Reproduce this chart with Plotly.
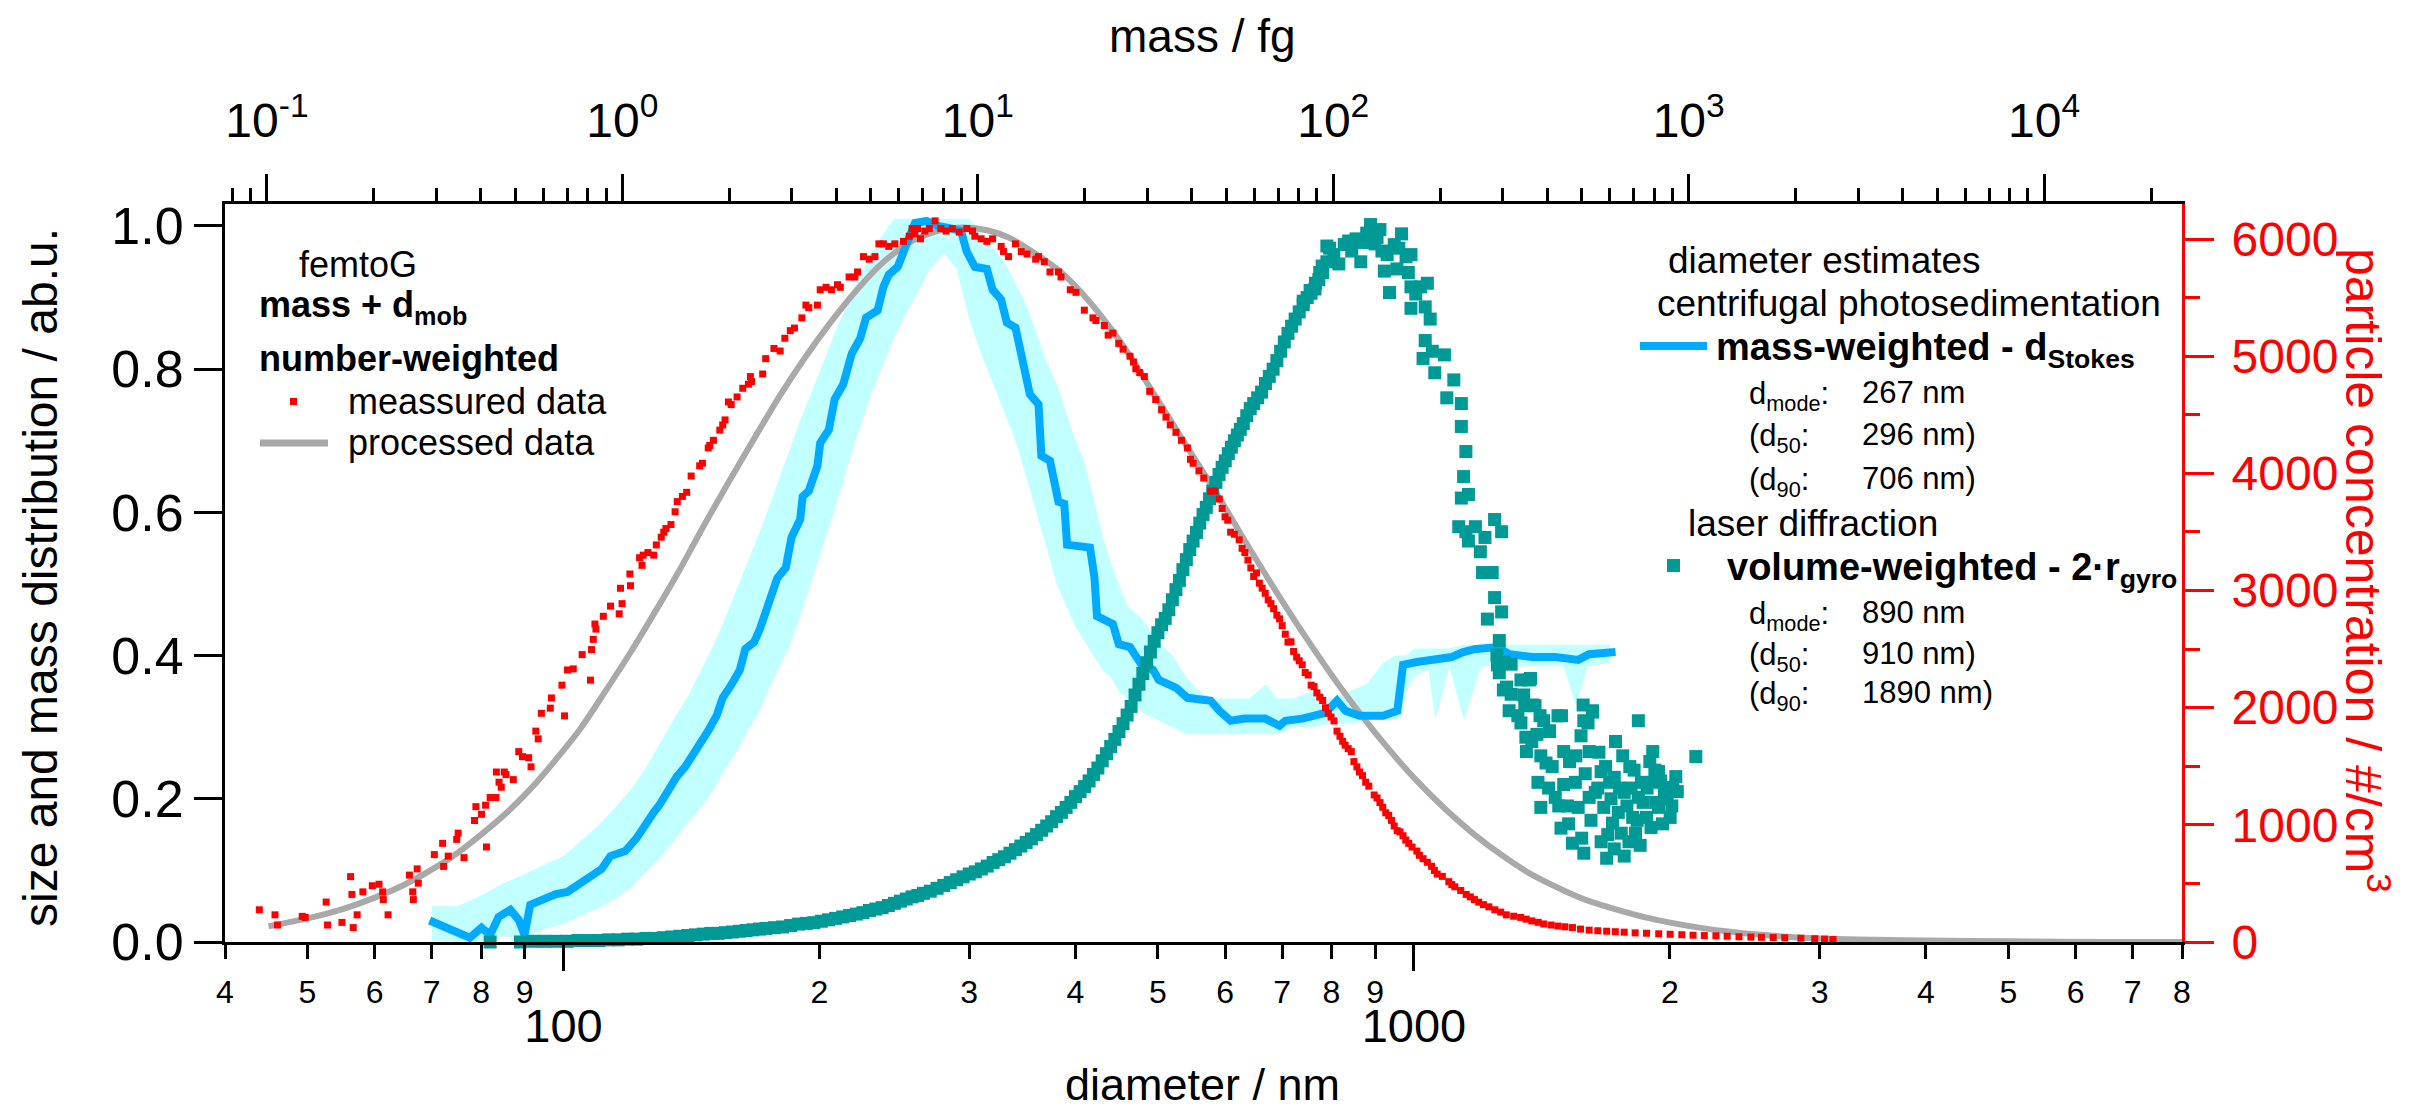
import math
import plotly.graph_objects as go

# ---------------------------------------------------------------------------
# femtoG (mass + mobility diameter), number-weighted: measured concentration
red_d = [
    43.9, 45.8, 46.1, 49.3, 49.7, 52.6, 52.8, 54.9, 56.2, 56.4,
    56.6, 57.2, 58.1, 59.6, 60.7, 61.3, 61.4, 62.2, 65.9, 66.5,
    66.6, 67.3, 67.5, 70.5, 72.1, 72.3, 73.2, 74.9, 75.2, 76.4,
    78.6, 78.9, 80.1, 81.0, 81.2, 82.0, 83.3, 83.4, 84.0, 84.5,
    85.2, 85.6, 87.3, 88.6, 89.5, 91.0, 91.6, 92.8, 93.4, 94.2,
    96.5, 96.8, 99.6, 100.3, 101.1, 102.7, 105.2, 107.6, 107.9, 108.4,
    108.9, 109.2, 111.4, 113.6, 116.3, 116.7, 117.2, 119.7, 119.9, 122.9,
    123.7, 124.1, 125.7, 127.7, 128.6, 130.3, 131.2, 132.0, 133.8, 135.3,
    136.1, 138.0, 139.6, 141.3, 144.6, 145.7, 148.0, 148.6, 150.1, 152.7,
    153.9, 154.9, 156.3, 157.5, 160.0, 162.5, 165.0, 165.9, 166.4, 171.5,
    172.9, 176.8, 179.8, 182.1, 184.8, 186.9, 190.7, 192.8, 194.3, 198.9,
    200.4, 203.6, 206.6, 210.0, 211.6, 216.7, 220.1, 221.7, 225.3, 228.8,
    232.4, 234.9, 237.8, 241.3, 245.3, 251.1, 255.0, 257.0, 259.0, 260.8,
    262.9, 266.0, 269.3, 273.5, 277.8, 281.8, 286.6, 292.0, 298.0, 302.7,
    304.6, 309.8, 314.7, 319.6, 327.1, 329.2, 333.7, 340.0, 345.4, 350.8,
    359.1, 361.9, 367.6, 373.3, 382.0, 384.6, 394.4, 400.5, 409.7, 419.4,
    422.8, 432.5, 437.0, 442.7, 449.7, 455.0, 463.6, 468.0, 471.0, 476.0,
    482.0, 489.0, 497.0, 505.0, 511.0, 517.0, 525.0, 533.0, 541.6, 546.0,
    550.0, 558.7, 566.0, 576.7, 583.0, 590.4, 595.0, 599.6, 604.0, 608.8,
    615.0, 623.0, 628.0, 632.7, 638.0, 643.0, 648.0, 652.9, 658.0, 663.0,
    668.6, 674.0, 679.0, 684.0, 690.0, 695.0, 700.0, 705.9, 711.0, 716.9,
    722.0, 728.0, 733.0, 739.0, 745.0, 751.0, 757.0, 763.0, 769.0, 775.0,
    781.0, 787.0, 793.0, 799.0, 805.5, 812.0, 818.5, 824.5, 830.0, 837.0,
    844.0, 850.0, 857.0, 863.0, 870.0, 877.5, 885.0, 898.0, 905.0, 912.0,
    919.0, 926.5, 934.0, 941.0, 948.0, 955.7, 963.0, 970.9, 978.0, 986.0,
    995.0, 1008, 1015, 1025, 1037, 1049, 1057, 1065, 1080, 1099,
    1108, 1117, 1135, 1152, 1165, 1178, 1192, 1207, 1225, 1245,
    1265, 1284, 1310, 1335, 1355, 1376, 1400, 1421, 1450, 1477,
    1505, 1536, 1570, 1607, 1645, 1685, 1725, 1767, 1820, 1877,
    1940, 2001, 2065, 2129, 2195, 2265, 2335, 2411, 2490, 2562,
    2645, 2729, 2851, 2960, 3040, 3110,
]
red_n = [
    275, 232, 145, 219, 210, 341, 145, 167, 558, 406,
    123, 232, 428, 480, 493, 428, 362, 232, 571, 428,
    362, 624, 502, 746, 842, 645, 733, 876, 929, 720,
    1037, 1155, 1090, 1168, 811, 1233, 1233, 1451, 1364, 1321,
    1451, 1429, 1386, 1625, 1582, 1573, 1495, 1800, 1734, 1952,
    1996, 2083, 2192, 1930, 2322, 2331, 2453, 2235, 2496, 2583,
    2714, 2671, 2780, 2867, 2801, 3019, 2888, 3141, 3041, 3280,
    3215, 3302, 3324, 3302, 3389, 3455, 3498, 3529, 3563, 3672,
    3759, 3803, 3838, 3977, 4064, 4086, 4217, 4238, 4282, 4369,
    4413, 4456, 4609, 4587, 4652, 4726, 4761, 4826, 4783, 4848,
    4979, 5066, 5044, 5153, 5218, 5240, 5327, 5436, 5414, 5436,
    5567, 5588, 5567, 5610, 5588, 5676, 5676, 5719, 5850, 5828,
    5850, 5959, 5959, 5937, 5959, 5980, 6024, 6089, 6046, 6089,
    6002, 6068, 6089, 6155, 6089, 6068, 6089, 6059, 6089, 6068,
    6024, 6002, 5980, 6002, 5937, 5893, 5850, 5959, 5893, 5872,
    5828, 5850, 5806, 5719, 5719, 5676, 5567, 5545, 5393, 5327,
    5305, 5262, 5180, 5197, 5109, 5060, 5000, 4950, 4892, 4860,
    4826, 4700, 4630, 4543, 4480, 4413, 4350, 4282, 4217, 4120,
    4086, 4021, 3960, 3847, 3850, 3781, 3700, 3629, 3600, 3498,
    3480, 3433, 3360, 3324, 3260, 3193, 3120, 3150, 3063, 3020,
    2976, 2920, 2888, 2845, 2790, 2758, 2700, 2627, 2560, 2562,
    2480, 2431, 2400, 2366, 2300, 2279, 2192, 2180, 2126, 2090,
    2061, 2000, 1952, 1920, 1887, 1800, 1756, 1713, 1680, 1650,
    1625, 1540, 1495, 1451, 1420, 1364, 1330, 1255, 1230, 1190,
    1150, 1103, 1080, 1038, 990, 950, 940, 907, 870, 842,
    810, 776, 740, 711, 680, 646, 610, 580, 560, 515,
    490, 471, 440, 406, 385, 362, 340, 319, 300, 275,
    255, 232, 220, 210, 195, 180, 168, 154, 145, 136,
    130, 123, 110, 101, 96, 92, 88, 84, 78, 75,
    70, 66, 62, 58, 55, 53, 49, 45, 42, 40,
    38, 36, 32, 28, 25, 22,
]

# femtoG processed (normalised) number distribution
grey_d = [
    45, 50, 55, 60, 65, 70, 75, 80, 86, 92,
    98, 105, 112, 120, 128, 137, 146, 156, 167, 179,
    192, 206, 221, 238, 256, 275, 295, 315, 335, 355,
    385, 415, 440, 464, 501, 542, 585, 633, 684, 739,
    799, 863, 933, 1008, 1090, 1178, 1273, 1376, 1500, 1607,
    1877, 2193, 2562, 3000, 4000, 5000, 6500, 8000,
]
grey_v = [
    0.022, 0.033, 0.046, 0.062, 0.080, 0.101, 0.124, 0.150, 0.182, 0.217,
    0.255, 0.300, 0.350, 0.405, 0.460, 0.520, 0.580, 0.640, 0.700, 0.760,
    0.815, 0.865, 0.910, 0.950, 0.978, 0.993, 0.998, 0.994, 0.983, 0.965,
    0.935, 0.895, 0.857, 0.818, 0.755, 0.690, 0.628, 0.560, 0.495, 0.433,
    0.374, 0.320, 0.270, 0.225, 0.185, 0.150, 0.120, 0.094, 0.072, 0.057,
    0.034, 0.019, 0.010, 0.005, 0.002, 0.001, 0.000, 0.000,
]

# centrifugal photosedimentation, mass-weighted (d_Stokes)
blue_d = [
    69.6, 74.1, 77.6, 80.1, 82.0, 83.9, 86.6, 88.6, 90.0, 91.4,
    95.0, 98.0, 101.1, 104.3, 107.6, 110.9, 113.6, 118.2, 121.9, 124.8,
    127.7, 129.6, 132.7, 135.9, 139.1, 142.4, 145.7, 148.0, 151.4, 153.9,
    157.5, 161.2, 163.6, 167.6, 170.2, 172.9, 175.6, 178.4, 182.6, 185.4,
    189.8, 191.1, 194.3, 198.9, 200.4, 205.1, 208.4, 213.3, 218.3, 223.3,
    226.9, 234.1, 237.8, 241.3, 247.2, 251.1, 255.0, 259.0, 267.2, 275.7,
    284.4, 293.4, 298.0, 304.6, 314.7, 319.6, 327.1, 332.2, 340.0, 345.4,
    353.5, 361.9, 364.7, 373.3, 382.0, 388.0, 391.0, 416.0, 421.0, 424.0,
    429.3, 442.7, 449.7, 463.6, 478.4, 493.5, 501.2, 525.4, 541.6, 576.7,
    590.4, 608.8, 632.7, 668.6, 695.0, 705.9, 739.0, 787.0, 812.0, 831.0,
    863.0, 920.0, 956.0, 971.0, 1008, 1057, 1108, 1143, 1178, 1254,
    1294, 1376, 1466, 1560, 1607, 1726,
]
blue_v = [
    0.030, 0.017, 0.006, 0.020, 0.010, 0.035, 0.045, 0.031, 0.010, 0.052,
    0.060, 0.067, 0.070, 0.081, 0.092, 0.102, 0.120, 0.127, 0.145, 0.166,
    0.181, 0.191, 0.213, 0.231, 0.245, 0.263, 0.280, 0.295, 0.316, 0.341,
    0.359, 0.380, 0.409, 0.419, 0.437, 0.462, 0.484, 0.508, 0.523, 0.565,
    0.590, 0.622, 0.630, 0.665, 0.697, 0.715, 0.758, 0.779, 0.822, 0.843,
    0.872, 0.882, 0.915, 0.932, 0.943, 0.964, 0.986, 1.004, 1.007, 1.000,
    0.997, 0.993, 0.964, 0.943, 0.940, 0.911, 0.897, 0.865, 0.858, 0.822,
    0.765, 0.751, 0.679, 0.672, 0.615, 0.612, 0.555, 0.551, 0.510, 0.455,
    0.451, 0.444, 0.416, 0.412, 0.387, 0.380, 0.366, 0.355, 0.341, 0.337,
    0.323, 0.309, 0.312, 0.312, 0.302, 0.309, 0.312, 0.320, 0.337, 0.323,
    0.316, 0.316, 0.323, 0.387, 0.391, 0.394, 0.398, 0.405, 0.409, 0.412,
    0.402, 0.398, 0.398, 0.394, 0.402, 0.405,
]

# uncertainty envelope of the mass-weighted distribution
band_d = [
    70, 75, 80, 85, 90, 95, 100, 105, 110, 115,
    120, 125, 130, 135, 140, 145, 150, 155, 160, 165,
    170, 175, 180, 185, 190, 195, 200, 205, 210, 215,
    220, 225, 230, 235, 240, 245, 250, 260, 270, 280,
    290, 300, 310, 320, 330, 340, 350, 360, 370, 380,
    390, 400, 410, 420, 430, 440, 450, 460, 480, 500,
    520, 540, 560, 580, 600, 640, 670, 690, 720, 760,
    800, 840, 880, 920, 950, 965, 980, 1000, 1040, 1060,
    1100, 1145, 1200, 1300, 1400, 1500, 1550, 1600, 1700,
]
band_lo = [
    0.002, 0.000, 0.002, 0.008, 0.005, 0.018, 0.025, 0.037, 0.047, 0.060,
    0.075, 0.098, 0.118, 0.142, 0.167, 0.187, 0.212, 0.242, 0.267, 0.297,
    0.322, 0.357, 0.387, 0.417, 0.457, 0.497, 0.537, 0.577, 0.617, 0.657,
    0.697, 0.730, 0.765, 0.792, 0.818, 0.845, 0.867, 0.905, 0.940, 0.962,
    0.940, 0.870, 0.820, 0.780, 0.740, 0.700, 0.650, 0.600, 0.550, 0.500,
    0.470, 0.440, 0.420, 0.400, 0.380, 0.370, 0.350, 0.340, 0.320, 0.310,
    0.300, 0.290, 0.290, 0.290, 0.290, 0.290, 0.290, 0.290, 0.300, 0.300,
    0.305, 0.305, 0.310, 0.310, 0.310, 0.315, 0.350, 0.370, 0.380, 0.310,
    0.385, 0.310, 0.385, 0.385, 0.385, 0.385, 0.330, 0.385, 0.390,
]
band_hi = [
    0.050, 0.050, 0.065, 0.082, 0.095, 0.108, 0.120, 0.142, 0.163, 0.188,
    0.213, 0.243, 0.278, 0.313, 0.343, 0.378, 0.413, 0.453, 0.493, 0.533,
    0.572, 0.612, 0.652, 0.690, 0.730, 0.763, 0.797, 0.830, 0.860, 0.888,
    0.915, 0.940, 0.962, 0.980, 0.997, 1.010, 1.010, 1.010, 1.010, 1.010,
    1.010, 1.010, 0.990, 0.970, 0.950, 0.920, 0.890, 0.850, 0.810, 0.780,
    0.740, 0.700, 0.670, 0.620, 0.570, 0.530, 0.500, 0.470, 0.450, 0.420,
    0.400, 0.370, 0.350, 0.340, 0.340, 0.340, 0.360, 0.340, 0.340, 0.350,
    0.340, 0.350, 0.360, 0.390, 0.400, 0.400, 0.400, 0.410, 0.410, 0.410,
    0.410, 0.415, 0.415, 0.415, 0.415, 0.415, 0.415, 0.415, 0.415,
]

# laser diffraction, volume-weighted (2 r_gyro): rising flank
teal_rise_d = [
    82, 89, 92, 95, 98, 101, 104, 107, 110, 113,
    116, 119, 122, 125, 128, 131, 134, 137, 140, 143,
    146, 149, 152, 155, 158, 161, 164, 167, 170, 173,
    177, 181, 185, 189, 193, 197, 201, 205, 209, 213,
    217, 221, 225, 229, 233, 237, 241, 245, 249, 253,
    257, 261, 265, 270, 275, 280, 285, 290, 295, 300,
    305, 310, 315, 320, 325, 330, 335, 340, 345, 350,
    355, 360, 365, 370, 375, 380, 385, 390, 395, 400,
    405, 410, 415, 420, 425, 430, 435, 440, 445, 450,
    455, 460, 465, 470, 475, 480, 485, 490, 495, 500,
    505, 510, 515, 520, 525, 530, 535, 540, 545, 550,
    555, 560, 565, 570, 575, 580, 585, 590, 595, 600,
    605, 610, 615, 620, 625, 630, 636, 642, 648, 655,
    662, 669, 676, 683, 690, 697, 704, 711, 718, 725,
    733, 741, 749, 757, 765, 773, 781, 790,
]
teal_rise_v = [
    0.000, 0.000, 0.001, 0.001, 0.001, 0.001, 0.002, 0.002, 0.002, 0.003,
    0.003, 0.004, 0.004, 0.005, 0.005, 0.006, 0.007, 0.008, 0.009, 0.010,
    0.011, 0.012, 0.012, 0.013, 0.014, 0.015, 0.016, 0.017, 0.018, 0.019,
    0.020, 0.021, 0.023, 0.025, 0.026, 0.027, 0.029, 0.031, 0.033, 0.035,
    0.037, 0.039, 0.041, 0.044, 0.046, 0.048, 0.051, 0.054, 0.057, 0.060,
    0.063, 0.065, 0.068, 0.071, 0.075, 0.079, 0.083, 0.087, 0.091, 0.095,
    0.098, 0.102, 0.106, 0.111, 0.115, 0.119, 0.124, 0.129, 0.134, 0.139,
    0.144, 0.150, 0.156, 0.162, 0.168, 0.175, 0.181, 0.188, 0.195, 0.203,
    0.210, 0.217, 0.225, 0.234, 0.243, 0.253, 0.263, 0.273, 0.283, 0.294,
    0.305, 0.317, 0.329, 0.345, 0.360, 0.375, 0.390, 0.405, 0.420, 0.432,
    0.443, 0.452, 0.464, 0.478, 0.492, 0.505, 0.520, 0.534, 0.548, 0.560,
    0.572, 0.585, 0.597, 0.607, 0.619, 0.630, 0.642, 0.653, 0.663, 0.672,
    0.682, 0.691, 0.700, 0.708, 0.716, 0.724, 0.735, 0.745, 0.752, 0.760,
    0.768, 0.780, 0.790, 0.800, 0.812, 0.825, 0.838, 0.850, 0.860, 0.870,
    0.880, 0.890, 0.900, 0.906, 0.912, 0.925, 0.935, 0.950,
]
# laser diffraction: maximum and falling flank
teal_peak_d = [
    741, 755, 766, 775, 780, 790, 796, 816, 828, 838,
    855, 866, 872, 889, 894, 905, 917, 923, 936, 948,
    960, 967, 979, 992, 992, 992, 1018, 1031, 1031, 1025,
    1037, 1051, 1058, 1086, 1114, 1093, 1137, 1137, 1151, 1144,
    1137, 1159, 1129, 1151, 1181, 1159, 1197, 1212, 1244, 1268,
    1204, 1236, 1244, 1220, 1268, 1260, 1252, 1276, 1301, 1260,
    1285, 1336, 1301, 1371, 1380, 1336, 1354, 1407, 1443, 1491,
    1581, 1622, 1602, 805, 845, 880, 900, 912, 930, 955,
    985, 1005, 1045,
]
teal_peak_v = [
    0.895, 0.910, 0.920, 0.935, 0.944, 0.972, 0.969, 0.947, 0.974, 0.979,
    0.982, 0.950, 0.977, 1.002, 0.992, 0.984, 0.965, 0.937, 0.907, 0.974,
    0.969, 0.989, 0.957, 0.960, 0.915, 0.885, 0.915, 0.887, 0.840, 0.815,
    0.920, 0.825, 0.795, 0.820, 0.785, 0.760, 0.752, 0.720, 0.685, 0.650,
    0.620, 0.625, 0.580, 0.573, 0.580, 0.560, 0.545, 0.565, 0.590, 0.573,
    0.516, 0.516, 0.481, 0.451, 0.461, 0.421, 0.401, 0.391, 0.388, 0.376,
    0.356, 0.366, 0.346, 0.368, 0.331, 0.306, 0.286, 0.316, 0.294, 0.316,
    0.331, 0.321, 0.306, 0.960, 0.965, 0.990, 0.975, 0.995, 0.960, 0.940,
    0.935, 0.905, 0.870,
]
# laser diffraction: scattered coarse tail
teal_tail_d = [
    1254, 1274, 1294, 1325, 1346, 1367, 1376, 1356, 1388, 1421,
    1443, 1454, 1477, 1500, 1524, 1548, 1572, 1584, 1607, 1621,
    1634, 1660, 1672, 1699, 1726, 1739, 1753, 1767, 1794, 1808,
    1822, 1836, 1851, 1877, 1894, 1909, 1939, 1970, 2001, 2016,
    2032, 2145, 1584, 1410, 1489, 1536, 1685, 1767, 1607, 1466,
    1399, 1560, 1712, 1836, 1909, 1939, 1430, 1500, 1515, 1550,
    1590, 1615, 1645, 1650, 1680, 1690, 1705, 1720, 1745, 1760,
    1780, 1790, 1800, 1815, 1830, 1845, 1860, 1880, 1900, 1920,
    1925, 1950, 1960, 1985, 2010, 2040, 1660, 1720, 1575, 1520,
    1480, 1440, 1410, 1395, 1350,
]
teal_tail_v = [
    0.387, 0.352, 0.323, 0.316, 0.345, 0.366, 0.280, 0.266, 0.330, 0.309,
    0.295, 0.245, 0.316, 0.266, 0.252, 0.223, 0.288, 0.309, 0.266, 0.323,
    0.209, 0.238, 0.188, 0.223, 0.280, 0.181, 0.152, 0.209, 0.245, 0.174,
    0.152, 0.202, 0.223, 0.174, 0.252, 0.223, 0.188, 0.209, 0.174, 0.216,
    0.231, 0.259, 0.124, 0.188, 0.159, 0.138, 0.117, 0.120, 0.202, 0.202,
    0.223, 0.188, 0.166, 0.309, 0.266, 0.238, 0.250, 0.220, 0.190, 0.260,
    0.235, 0.170, 0.215, 0.265, 0.245, 0.150, 0.200, 0.230, 0.215, 0.260,
    0.190, 0.140, 0.215, 0.240, 0.170, 0.135, 0.195, 0.215, 0.160, 0.240,
    0.195, 0.225, 0.165, 0.200, 0.190, 0.210, 0.140, 0.130, 0.145, 0.165,
    0.190, 0.215, 0.260, 0.290, 0.330,
]

# tick definitions
diam_minor_vals = [40, 50, 60, 70, 80, 90, 200, 300, 400, 500, 600, 700, 800, 900,
                   2000, 3000, 4000, 5000, 6000, 7000, 8000]
diam_minor_text = ["4", "5", "6", "7", "8", "9", "2", "3", "4", "5", "6", "7", "8", "9",
                   "2", "3", "4", "5", "6", "7", "8"]
diam_major_vals = [100, 1000]
diam_major_text = ["100", "1000"]
mass_major_vals = [0.1, 1, 10, 100, 1000, 10000]
mass_major_text = ["10<sup>-1</sup>", "10<sup>0</sup>", "10<sup>1</sup>",
                   "10<sup>2</sup>", "10<sup>3</sup>", "10<sup>4</sup>"]
mass_minor_vals = [0.08, 0.09] + [k * 10.0 ** e for e in range(-1, 4) for k in range(2, 10)] + [20000]
size_ticks = [0.0, 0.2, 0.4, 0.6, 0.8, 1.0]
size_ticktext = ["0.0", "0.2", "0.4", "0.6", "0.8", "1.0"]
conc_ticks = [0, 1000, 2000, 3000, 4000, 5000, 6000]
conc_minor = [500, 1500, 2500, 3500, 4500, 5500]

# ---------------------------------------------------------------------------
FONT = "Liberation Sans, Arial, Helvetica, sans-serif"
RED = "#ff0000"
GREY = "#a9a9a9"
BLUE = "#00aaff"
CYAN = "#c2ffff"
TEAL = "#009a96"

W, H = 2425, 1114
L, R, T, B = 225, 2182, 204, 942          # plot-area edges (px)
X_RANGE = [math.log10(40), math.log10(8000)]
MASS_RANGE = [-1.118, 4.388]
Y_RANGE = [0, 1.0307]
Y2_RANGE = [0, 6299]


def fx(x):
    return (x - L) / (R - L)


def fy(y):
    return (B - y) / (B - T)


fig = go.Figure()

fig.add_trace(go.Scatter(x=band_d, y=band_lo, mode="lines", line=dict(width=0, color=CYAN),
                         hoverinfo="skip", showlegend=False))
fig.add_trace(go.Scatter(x=band_d, y=band_hi, mode="lines", line=dict(width=0, color=CYAN),
                         fill="tonexty", fillcolor=CYAN, hoverinfo="skip", showlegend=False))
fig.add_trace(go.Scatter(x=grey_d, y=grey_v, mode="lines", name="processed data",
                         line=dict(color=GREY, width=6, shape="spline", smoothing=0.7)))
fig.add_trace(go.Scatter(x=blue_d, y=blue_v, mode="lines", name="mass-weighted",
                         line=dict(color=BLUE, width=8)))
fig.add_trace(go.Scatter(x=teal_rise_d + teal_peak_d + teal_tail_d,
                         y=teal_rise_v + teal_peak_v + teal_tail_v,
                         mode="markers", name="volume-weighted", cliponaxis=False,
                         marker=dict(symbol="square", size=13, color=TEAL, line=dict(width=0))))
fig.add_trace(go.Scatter(x=red_d, y=red_n, yaxis="y2", mode="markers", name="meassured data",
                         cliponaxis=False,
                         marker=dict(symbol="square", size=7, color=RED, line=dict(width=0))))
# carriers for the auxiliary axes
fig.add_trace(go.Scatter(x=[], y=[], xaxis="x2", yaxis="y", showlegend=False, hoverinfo="skip"))
fig.add_trace(go.Scatter(x=[], y=[], xaxis="x3", yaxis="y", showlegend=False, hoverinfo="skip"))

axis_common = dict(showgrid=False, zeroline=False, automargin=False)

fig.update_layout(
    width=W, height=H,
    margin=dict(l=L, r=W - R, t=T, b=H - B, autoexpand=False),
    paper_bgcolor="white", plot_bgcolor="white",
    showlegend=False,
    font=dict(family=FONT, color="black"),
    xaxis=dict(type="log", range=X_RANGE, tickmode="array",
               tickvals=diam_minor_vals, ticktext=diam_minor_text,
               ticks="outside", ticklen=14, tickwidth=2.5, tickcolor="black",
               showline=True, linewidth=3, linecolor="black",
               tickfont=dict(size=32), ticklabelstandoff=6, **axis_common),
    xaxis3=dict(type="log", range=X_RANGE, overlaying="x", anchor="y", side="bottom",
                tickmode="array", tickvals=diam_major_vals, ticktext=diam_major_text,
                ticks="outside", ticklen=28, tickwidth=2.5, tickcolor="black",
                showline=False, tickfont=dict(size=47), ticklabelstandoff=15, **axis_common),
    xaxis2=dict(type="log", range=MASS_RANGE, overlaying="x", anchor="y", side="top",
                tickmode="array", tickvals=mass_major_vals, ticktext=mass_major_text,
                ticks="outside", ticklen=27, tickwidth=2.5, tickcolor="black",
                minor=dict(tickmode="array", tickvals=mass_minor_vals, ticks="outside",
                           ticklen=13, tickwidth=2.5, tickcolor="black"),
                showline=True, linewidth=3, linecolor="black",
                tickfont=dict(size=48), ticklabelstandoff=18, **axis_common),
    yaxis=dict(range=Y_RANGE, tickmode="array", tickvals=size_ticks, ticktext=size_ticktext,
               ticks="outside", ticklen=28, tickwidth=3, tickcolor="black",
               showline=True, linewidth=3, linecolor="black",
               tickfont=dict(size=52), ticklabelstandoff=0, **axis_common),
    yaxis2=dict(range=Y2_RANGE, overlaying="y", side="right", anchor="x",
                tickmode="array", tickvals=conc_ticks,
                ticks="outside", ticklen=29, tickwidth=3, tickcolor=RED,
                minor=dict(tickmode="array", tickvals=conc_minor, ticks="outside",
                           ticklen=15, tickwidth=3, tickcolor=RED),
                showline=True, linewidth=3, linecolor=RED,
                tickfont=dict(size=48, color=RED), ticklabelstandoff=8, **axis_common),
)

# axis titles
titles = [
    dict(x=fx(1202), y=fy(1084), text="diameter / nm", font=dict(size=45), textangle=0),
    dict(x=fx(1202), y=fy(36), text="mass / fg", font=dict(size=46), textangle=0),
    dict(x=fx(40), y=fy(578), text="size and mass distribution / ab.u.",
         font=dict(size=48), textangle=-90),
    dict(x=fx(2367), y=fy(570), text="particle concentration / #/cm<sup>3</sup>",
         font=dict(size=50, color=RED), textangle=90),
]
for t in titles:
    fig.add_annotation(xref="paper", yref="paper", showarrow=False,
                       xanchor="center", yanchor="middle", **t)

# legend blocks
notes = [
    # femtoG block
    (297, 265, "femtoG", 36),
    (257, 307, "<b>mass + d<sub>mob</sub></b>", 36),
    (257, 358, "<b>number-weighted</b>", 36),
    (346, 401, "meassured data", 36),
    (346, 442, "processed data", 36),
    # diameter estimate block
    (1666, 260, "diameter estimates", 37),
    (1655, 303, "centrifugal photosedimentation", 37),
    (1714, 350, "<b>mass-weighted - d<sub>Stokes</sub></b>", 38),
    (1747, 396, "d<sub>mode</sub>:", 31),
    (1860, 392, "267 nm", 31),
    (1747, 438, "(d<sub>50</sub>:", 31),
    (1860, 434, "296 nm)", 31),
    (1747, 482, "(d<sub>90</sub>:", 31),
    (1860, 478, "706 nm)", 31),
    (1686, 523, "laser diffraction", 37),
    (1725, 570, "<b>volume-weighted - 2·r<sub>gyro</sub></b>", 38),
    (1747, 616, "d<sub>mode</sub>:", 31),
    (1860, 612, "890 nm", 31),
    (1747, 657, "(d<sub>50</sub>:", 31),
    (1860, 653, "910 nm)", 31),
    (1747, 696, "(d<sub>90</sub>:", 31),
    (1860, 692, "1890 nm)", 31),
]
for x, y, text, size in notes:
    fig.add_annotation(xref="paper", yref="paper", x=fx(x), y=fy(y), text=text,
                       showarrow=False, xanchor="left", yanchor="middle",
                       font=dict(size=size, color="black"))

# legend keys
keys = [
    dict(type="rect", x0=fx(290), x1=fx(297), y0=fy(405), y1=fy(398),
         fillcolor=RED, line=dict(width=0)),
    dict(type="line", x0=fx(260), x1=fx(328), y0=fy(443), y1=fy(443),
         line=dict(color=GREY, width=7)),
    dict(type="line", x0=fx(1640), x1=fx(1707), y0=fy(346), y1=fy(346),
         line=dict(color=BLUE, width=8)),
    dict(type="rect", x0=fx(1667), x1=fx(1680), y0=fy(572), y1=fy(559),
         fillcolor=TEAL, line=dict(width=0)),
]
for k in keys:
    fig.add_shape(xref="paper", yref="paper", layer="above", **k)

fig.write_html("out.html")
